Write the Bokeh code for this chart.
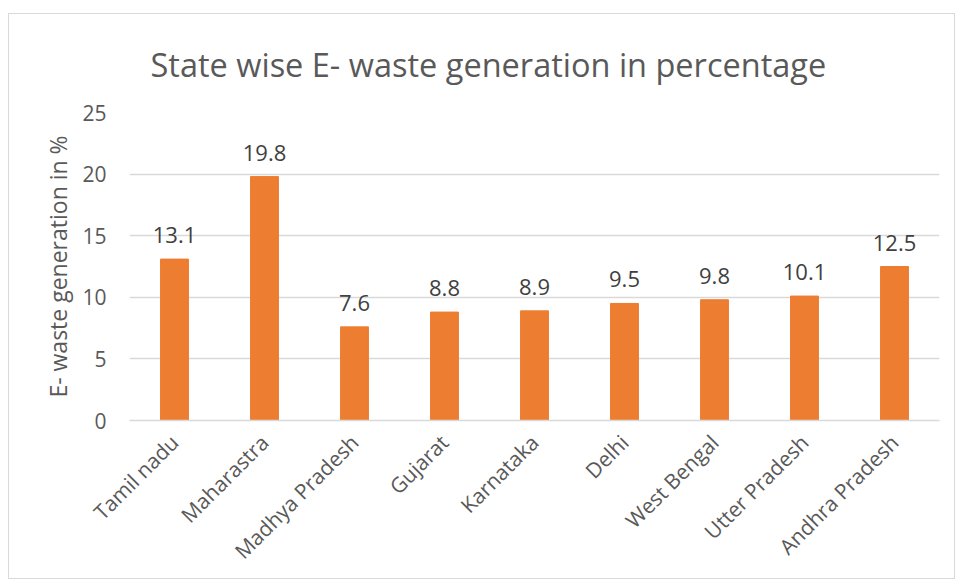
from bokeh.plotting import figure
from bokeh.models import ColumnDataSource, Range1d, FactorRange, LabelSet
from bokeh.core.properties import value
from bokeh.embed import file_html
from bokeh.resources import INLINE
import math

title_text = "State wise E- waste generation in percentage"
states = ["Tamil nadu", "Maharastra", "Madhya Pradesh", "Gujarat", "Karnataka",
          "Delhi", "West Bengal", "Utter Pradesh", "Andhra Pradesh"]
values = [13.1, 19.8, 7.6, 8.8, 8.9, 9.5, 9.8, 10.1, 12.5]
labels = ["13.1", "19.8", "7.6", "8.8", "8.9", "9.5", "9.8", "10.1", "12.5"]
y_ticks = [0, 5, 10, 15, 20, 25]

FONT = "Open Sans"
GREY = "#595959"

src = ColumnDataSource(dict(x=states, top=values, lab=labels))

p = figure(width=947, height=566, output_backend="svg", toolbar_location=None,
           x_range=FactorRange(*states, range_padding=0), y_range=Range1d(0, 25),
           min_border_left=120, min_border_right=17, min_border_top=98,
           min_border_bottom=160,
           styles={"border": "1px solid #d9d9d9", "margin-left": "8px",
                   "margin-top": "13px"})

p.vbar(x="x", top="top", width=0.31, source=src, color="#ED7D31")

p.add_layout(LabelSet(x="x", y="top", text="lab", source=src, text_align="center",
                      text_baseline="alphabetic", y_offset=16, text_font=value(FONT),
                      text_font_size="22px", text_color="#404040"))

p.title.text = title_text
p.title.align = "left"
p.title.text_font = FONT
p.title.text_font_size = "32.5px"
p.title.text_font_style = "normal"
p.title.text_color = GREY
p.title.standoff = 51
p.title.offset = 21

p.outline_line_color = None
p.background_fill_color = "white"
p.xgrid.grid_line_color = None
p.ygrid.grid_line_color = "#d9d9d9"
p.ygrid.grid_line_width = 1.3

p.yaxis.ticker = y_ticks
p.yaxis.axis_line_color = None
p.yaxis.major_tick_line_color = None
p.yaxis.minor_tick_line_color = None
p.yaxis.major_label_text_font = FONT
p.yaxis.major_label_text_font_size = "21px"
p.yaxis.major_label_text_color = GREY
p.yaxis.major_label_standoff = 17
p.yaxis.axis_label = "E- waste generation in %"
p.yaxis.axis_label_text_font = FONT
p.yaxis.axis_label_text_font_size = "23px"
p.yaxis.axis_label_text_font_style = "normal"
p.yaxis.axis_label_text_color = GREY
p.yaxis.axis_label_standoff = 5

p.xaxis.axis_line_color = "#d9d9d9"
p.xaxis.axis_line_width = 1.3
p.xaxis.major_tick_line_color = None
p.xaxis.minor_tick_line_color = None
p.xaxis.major_label_orientation = math.pi / 4
p.xaxis.major_label_text_font = FONT
p.xaxis.major_label_text_font_size = "21px"
p.xaxis.major_label_text_color = GREY
p.xaxis.major_label_standoff = 12

open("out.html", "w").write(file_html(p, INLINE))
